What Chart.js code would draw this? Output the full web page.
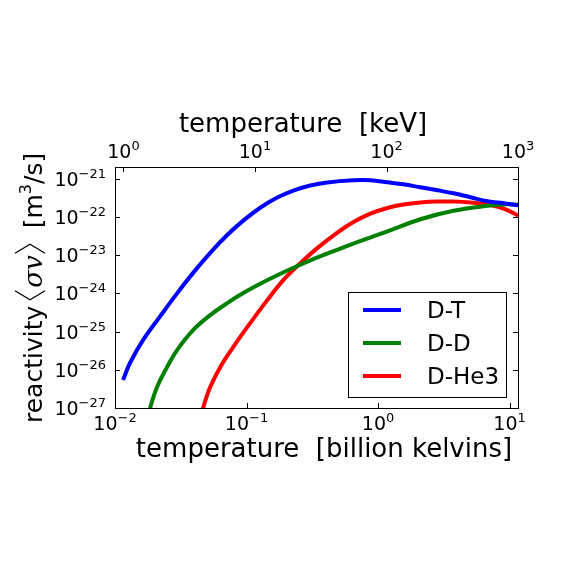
<!DOCTYPE html>
<html>
<head>
<meta charset="utf-8">
<script src="https://cdn.jsdelivr.net/npm/chart.js@4.4.0/dist/chart.umd.min.js"></script>
<style>
    html, body { margin: 0; padding: 0; background: #ffffff; }
    canvas { display: block; }
</style>
</head>
<body>
<canvas id="reactivityChart" width="576" height="576"></canvas>
<script>
// Temperatures in billion kelvins, reactivities in m^3/s
const dtTemp = [0.01151, 0.0130, 0.01633, 0.02203, 0.02965, 0.03926, 0.05297, 0.07134, 0.09441, 0.1271, 0.1714, 0.2270, 0.3055, 0.4117, 0.6498, 0.8750, 1.180, 1.561, 2.103, 2.834, 3.748, 5.054, 6.808, 9.016, 11.6];
const dtRate = [5.38e-27, 1.50e-26, 5.96e-26, 2.49e-25, 9.93e-25, 3.41e-24, 1.14e-23, 3.33e-23, 7.91e-23, 1.72e-22, 3.17e-22, 4.83e-22, 6.56e-22, 7.91e-22, 8.97e-22, 8.97e-22, 7.96e-22, 7.06e-22, 5.89e-22, 4.92e-22, 4.11e-22, 3.23e-22, 2.54e-22, 2.25e-22, 2.00e-22];

const ddTemp = [0.01782, 0.01849, 0.02089, 0.02489, 0.02965, 0.03926, 0.05297, 0.07134, 0.09441, 0.1271, 0.1714, 0.2270, 0.3055, 0.4340, 0.6498, 1.180, 2.103, 3.748, 6.808, 9.675, 11.6];
const ddRate = [5.48e-28, 1.0e-27, 3.53e-27, 1.17e-26, 3.27e-26, 1.09e-25, 2.68e-25, 5.52e-25, 1.01e-24, 1.77e-24, 2.95e-24, 4.63e-24, 7.28e-24, 1.17e-23, 1.99e-23, 4.13e-23, 8.61e-23, 1.44e-22, 1.94e-22, 2.12e-22, 2.06e-22];

const heTemp = [0.04519, 0.04677, 0.05297, 0.06310, 0.07925, 0.1067, 0.1439, 0.1904, 0.2566, 0.3453, 0.4907, 0.6498, 0.8750, 1.180, 1.561, 2.103, 2.834, 3.748, 5.054, 6.808, 9.016, 11.6];
const heRate = [5.48e-28, 1.0e-27, 3.53e-27, 1.17e-26, 3.92e-26, 1.66e-25, 6.61e-25, 2.20e-24, 6.11e-24, 1.51e-23, 3.85e-23, 7.28e-23, 1.21e-22, 1.70e-22, 2.09e-22, 2.36e-22, 2.49e-22, 2.49e-22, 2.35e-22, 2.08e-22, 1.64e-22, 1.07e-22];

const seriesLabels = ["D-T", "D-D", "D-He3"];

// Tick exponents (labels are 10^exp)
const bottomTickExps = [-2, -1, 0, 1];
const topTickExps = [0, 1, 2, 3];
const yTickExps = [-27, -26, -25, -24, -23, -22, -21];

// 1 keV expressed in billion kelvins
const KEV_IN_GK = 0.0116045;
const T_MIN = 0.01;
const T_MAX = 11.6;

const FONT = '"DejaVu Sans", "Liberation Sans", sans-serif';

function toPoints(xs, ys) {
    return xs.map((x, i) => ({ x: x, y: ys[i] }));
}

function expText(e) {
    return e < 0 ? "\u2212" + Math.abs(e) : String(e);
}

// Draws "10^exp" with a raised exponent; align is 'center' or 'right'
function drawPower(ctx, exp, x, baseY, align) {
    ctx.font = "19px " + FONT;
    const wBase = ctx.measureText("10").width;
    ctx.font = "13px " + FONT;
    const sup = expText(exp);
    const wSup = ctx.measureText(sup).width;
    const total = wBase + wSup;
    const start = align === "right" ? x - total : x - total / 2;
    ctx.textAlign = "left";
    ctx.textBaseline = "alphabetic";
    ctx.font = "19px " + FONT;
    ctx.fillText("10", start, baseY);
    ctx.font = "13px " + FONT;
    ctx.fillText(sup, start + wBase, baseY - 8);
}

function drawYTitle(ctx) {
    ctx.save();
    ctx.translate(42, 423);
    ctx.rotate(-Math.PI / 2);
    ctx.fillStyle = "#000";
    ctx.strokeStyle = "#000";
    ctx.textAlign = "left";
    ctx.textBaseline = "alphabetic";

    let u = 0;
    ctx.font = "25px " + FONT;
    ctx.fillText("reactivity", u, 0);
    u += ctx.measureText("reactivity").width + 6;

    // left angle bracket
    ctx.lineWidth = 1.2;
    ctx.beginPath();
    ctx.moveTo(u + 9, -27);
    ctx.lineTo(u, -12);
    ctx.lineTo(u + 9, 3);
    ctx.stroke();
    u += 12;

    ctx.font = 'italic 26px "DejaVu Serif", "Liberation Serif", serif';
    ctx.fillText("\u03c3v", u, 0);
    u += ctx.measureText("\u03c3v").width + 2;

    // right angle bracket
    ctx.beginPath();
    ctx.moveTo(u, -27);
    ctx.lineTo(u + 9, -12);
    ctx.lineTo(u, 3);
    ctx.stroke();
    u += 9 + 16;

    ctx.font = "25px " + FONT;
    ctx.fillText("[m", u, 0);
    u += ctx.measureText("[m").width;
    ctx.font = "16px " + FONT;
    ctx.fillText("3", u, -11);
    u += ctx.measureText("3").width;
    ctx.font = "25px " + FONT;
    ctx.fillText("/s]", u, 0);
    ctx.restore();
}

// Frame, inward ticks, power-of-ten labels, titles and legend in matplotlib style
const axesDecor = {
    id: "axesDecor",
    afterDatasetsDraw(chart) {
        const ctx = chart.ctx;
        const area = chart.chartArea;
        const xs = chart.scales.x;
        const ks = chart.scales.xKeV;
        const ys = chart.scales.y;
        const crisp = v => Math.round(v) + 0.5;

        ctx.save();
        ctx.strokeStyle = "#000";
        ctx.fillStyle = "#000";
        ctx.lineWidth = 1;

        // frame
        ctx.strokeRect(crisp(area.left), crisp(area.top),
            Math.round(area.right) - Math.round(area.left), Math.round(area.bottom) - Math.round(area.top));

        // ticks
        ctx.beginPath();
        bottomTickExps.forEach(e => {
            const px = crisp(xs.getPixelForValue(Math.pow(10, e)));
            ctx.moveTo(px, area.bottom);
            ctx.lineTo(px, area.bottom - 5);
        });
        topTickExps.forEach(e => {
            const px = crisp(ks.getPixelForValue(Math.pow(10, e)));
            ctx.moveTo(px, area.top);
            ctx.lineTo(px, area.top + 5);
        });
        yTickExps.forEach(e => {
            const py = crisp(ys.getPixelForValue(Math.pow(10, e)));
            ctx.moveTo(area.left, py);
            ctx.lineTo(area.left + 5, py);
            ctx.moveTo(area.right, py);
            ctx.lineTo(area.right - 5, py);
        });
        ctx.stroke();

        // tick labels
        bottomTickExps.forEach(e => {
            drawPower(ctx, e, xs.getPixelForValue(Math.pow(10, e)), area.bottom + 22, "center");
        });
        topTickExps.forEach(e => {
            drawPower(ctx, e, ks.getPixelForValue(Math.pow(10, e)), area.top - 9, "center");
        });
        yTickExps.forEach(e => {
            drawPower(ctx, e, area.left - 9, ys.getPixelForValue(Math.pow(10, e)) + 7, "right");
        });

        // axis titles
        ctx.font = "26px " + FONT;
        ctx.textAlign = "center";
        ctx.textBaseline = "alphabetic";
        ctx.fillText("temperature  [billion kelvins]", 324, 457);
        ctx.fillText("temperature  [keV]", 303, 132);
        drawYTitle(ctx);

        // legend box in the lower right of the axes
        ctx.lineWidth = 1;
        ctx.strokeRect(348.5, 292.5, 158, 105);
        chart.data.datasets.forEach((ds, i) => {
            const ly = 310 + i * 33;
            ctx.strokeStyle = ds.borderColor;
            ctx.lineWidth = 4;
            ctx.beginPath();
            ctx.moveTo(363, ly);
            ctx.lineTo(401, ly);
            ctx.stroke();
            ctx.fillStyle = "#000";
            ctx.font = "23px " + FONT;
            ctx.textAlign = "left";
            ctx.fillText(ds.label, 427, ly + 8);
        });
        ctx.restore();
    }
};

const lineStyle = {
    borderWidth: 4,
    pointRadius: 0,
    fill: false,
    tension: 0.4,
    borderCapStyle: "butt",
    borderJoinStyle: "round",
    clip: 0
};

new Chart(document.getElementById("reactivityChart"), {
    type: "line",
    data: {
        datasets: [
            Object.assign({ label: seriesLabels[0], data: toPoints(dtTemp, dtRate), borderColor: "#0000ff" }, lineStyle),
            Object.assign({ label: seriesLabels[1], data: toPoints(ddTemp, ddRate), borderColor: "#008000" }, lineStyle),
            Object.assign({ label: seriesLabels[2], data: toPoints(heTemp, heRate), borderColor: "#ff0000" }, lineStyle)
        ]
    },
    options: {
        responsive: false,
        animation: false,
        devicePixelRatio: 1,
        layout: { padding: { left: 115, right: 58, top: 167, bottom: 168 } },
        scales: {
            x: { type: "logarithmic", min: T_MIN, max: T_MAX, display: false },
            xKeV: { type: "logarithmic", position: "top", min: T_MIN / KEV_IN_GK, max: T_MAX / KEV_IN_GK, display: false },
            y: { type: "logarithmic", min: 1e-27, max: 2e-21, display: false }
        },
        plugins: {
            legend: { display: false },
            tooltip: { enabled: false }
        }
    },
    plugins: [axesDecor]
});
</script>
</body>
</html>
